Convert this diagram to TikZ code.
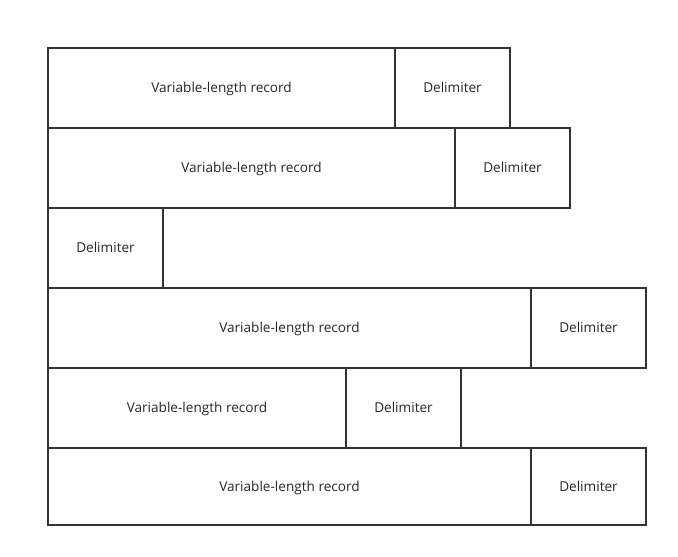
\documentclass[tikz,border=0pt]{standalone}
\usepackage{fontspec}
\setmainfont{Open Sans}
\begin{document}
\begin{tikzpicture}[x=1pt,y=-1pt,
  cell/.style={draw=black!80,line width=1.6pt,rectangle,inner sep=0pt,outer sep=0pt,font=\fontsize{13.6}{15}\selectfont,text=black!85,text height=10pt,text depth=1pt},
  rec/.style={cell},
  delim/.style={cell,minimum width=115pt}]
\useasboundingbox (0,0) rectangle (678,557);
% row 1
\node[rec,minimum width=347pt,minimum height=80pt] (r1) at (221.5,88) {Variable-length record};
\node[delim,minimum height=80pt] (d1) at (452.5,88) {Delimiter};
% row 2
\node[rec,minimum width=407pt,minimum height=80pt] (r2) at (251.5,168) {Variable-length record};
\node[delim,minimum height=80pt] (d2) at (512.5,168) {Delimiter};
% row 3
\node[delim,minimum height=80pt] (d3) at (105.5,248) {Delimiter};
% row 4
\node[rec,minimum width=483pt,minimum height=80pt] (r4) at (289.5,328) {Variable-length record};
\node[delim,minimum height=80pt] (d4) at (588.5,328) {Delimiter};
% row 5
\node[rec,minimum width=298pt,minimum height=80pt] (r5) at (197,408) {Variable-length record};
\node[delim,minimum height=80pt] (d5) at (403.5,408) {Delimiter};
% row 6
\node[rec,minimum width=483pt,minimum height=77pt] (r6) at (289.5,486.5) {Variable-length record};
\node[delim,minimum height=77pt] (d6) at (588.5,486.5) {Delimiter};
\end{tikzpicture}
\end{document}
